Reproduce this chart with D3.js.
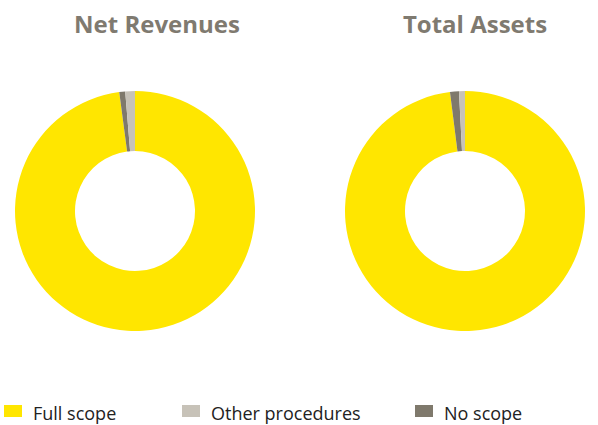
<!DOCTYPE html>
<html>
<head>
<meta charset="utf-8">
<script src="https://cdn.jsdelivr.net/npm/d3@7"></script>
<style>
  body { margin: 0; background: #fff; }
  svg { display: block; }
</style>
</head>
<body>
<div id="chart"></div>
<script>
const categories = ["Full scope", "No scope", "Other procedures"],
    legendOrder = ["Full scope", "Other procedures", "No scope"],
    chartTitles = ["Net Revenues", "Total Assets"],
    netRevenues = [97.9, 0.8, 1.3],
    totalAssets = [98.0, 1.2, 0.8],
    colors = {"Full scope": "#ffe600", "Other procedures": "#c7c2b8", "No scope": "#7f796c"}

const w = 598, h = 425,
    outerR = 120, innerR = 60,
    centers = [{x: 135, y: 211}, {x: 465, y: 211}],
    titleX = [157, 475]

const svg = d3.select("#chart").append("svg")
  .attr("width", w)
  .attr("height", h)

const pie = d3.pie().sort(null).value(d => d.v)
const arc = d3.arc().innerRadius(innerR).outerRadius(outerR)

;[netRevenues, totalAssets].forEach((vals, i) => {
  const data = categories.map((c, j) => ({c: c, v: vals[j]}))
  const g = svg.append("g")
    .attr("transform", `translate(${centers[i].x},${centers[i].y})`)

  g.selectAll("path")
    .data(pie(data))
    .join("path")
    .attr("d", arc)
    .attr("fill", d => colors[d.data.c])

  svg.append("text")
    .attr("x", titleX[i])
    .attr("y", 33)
    .attr("text-anchor", "middle")
    .style("font-family", "'Open Sans', sans-serif")
    .style("font-weight", "bold")
    .style("font-size", "24px")
    .attr("fill", "#7f7a70")
    .text(chartTitles[i])
})

// legend
const legendX = [4, 182, 415]
const legend = svg.append("g")
legendOrder.forEach((c, i) => {
  legend.append("rect")
    .attr("x", legendX[i])
    .attr("y", 405)
    .attr("width", 18)
    .attr("height", 12)
    .attr("fill", colors[c])
  legend.append("text")
    .attr("x", legendX[i] + 29)
    .attr("y", 420)
    .style("font-family", "'Open Sans', sans-serif")
    .style("font-size", "18px")
    .attr("fill", "#222")
    .text(c)
})
</script>
</body>
</html>
